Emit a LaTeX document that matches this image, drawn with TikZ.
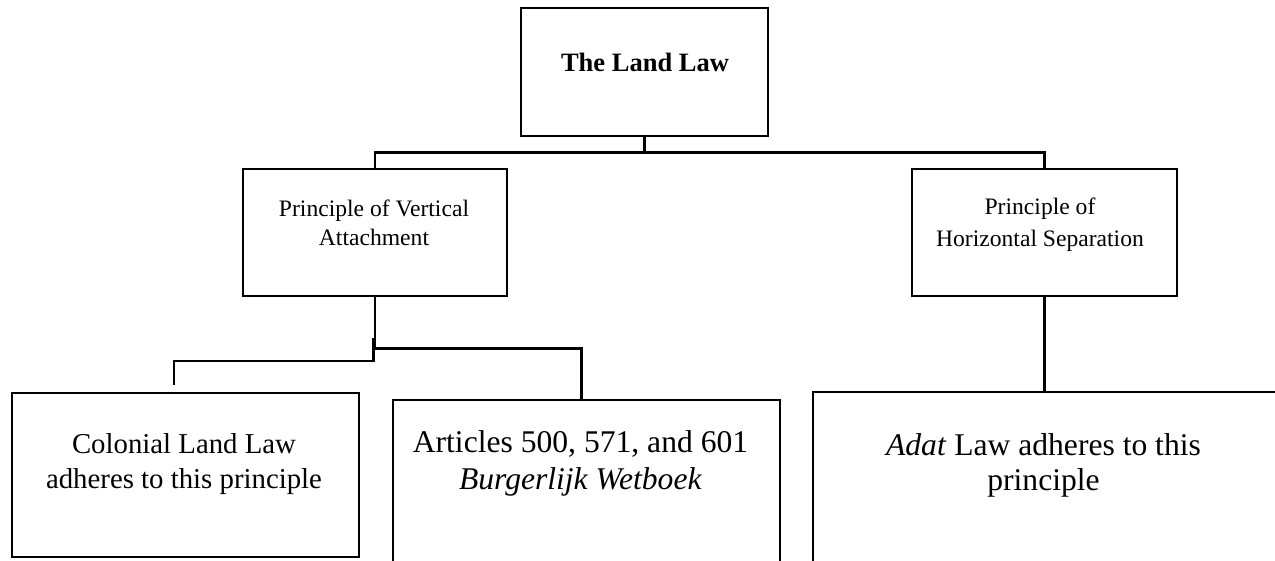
\documentclass[tikz,border=0pt]{standalone}
\usepackage{fontspec}
\setmainfont{Liberation Serif}
\begin{document}
\begin{tikzpicture}[x=1pt,y=-1pt,
  box/.style={draw=black,line width=1.8pt,rectangle,inner sep=0pt,anchor=center},
  conn/.style={draw=black,line width=2.6pt},
  lbl/.style={anchor=base,align=center,inner sep=0pt},
  fmid/.style={font=\fontsize{23.6}{29}\selectfont},
  fmidr/.style={font=\fontsize{23.6}{32}\selectfont},
  fbot/.style={font=\fontsize{28.8}{35}\selectfont},
  fbotm/.style={font=\fontsize{31.6}{37}\selectfont},
  fbotr/.style={font=\fontsize{31.6}{35}\selectfont},
  ftop/.style={font=\fontsize{26.5}{30}\selectfont\bfseries}]
\clip (0,0) rectangle (1275,560);
% boxes
\node[box,minimum width=247pt,minimum height=128pt] (top) at (644.5,72) {};
\node[box,minimum width=264pt,minimum height=127pt] (midL) at (375,232.5) {};
\node[box,minimum width=265pt,minimum height=127pt] (midR) at (1044.5,232.75) {};
\node[box,minimum width=347.6pt,minimum height=164.3pt] (botL) at (185.5,474.85) {};
\node[box,minimum width=386.7pt,minimum height=200pt] (botM) at (586.65,500) {};
\node[box,minimum width=487.3pt,minimum height=210pt] (botR) at (1056.35,496.7) {};
% labels (base anchor = baseline of the last line)
\node[lbl,ftop] (tTop) at (645,71.7) {The Land Law};
\node[lbl,fmid] (tMidL) at (374,245) {Principle of Vertical\\Attachment};
\node[lbl,fmidr] (tMidR) at (1040,246.5) {Principle of\\Horizontal Separation};
\node[lbl,fbot] (tBotL) at (184,488) {Colonial Land Law\\adheres to this principle};
\node[lbl,fbotm] (tBotM) at (580.5,489) {Articles 500, 571, and 601\\\textit{Burgerlijk Wetboek}};
\node[lbl,fbotr] (tBotR) at (1043.5,490) {\textit{Adat} Law adheres to this\\principle};
% connectors
\coordinate (j1) at (644.5,152.3);
\draw[conn] (top.south) -- (j1);
\draw[conn] (midL.north) |- (j1) -| (midR.north);
\coordinate (j2) at (581.5,348.3);
\draw[conn] (midL.south) |- (j2) -- (j2 |- botM.north);
\coordinate (k1) at (373.5,338);
\coordinate (k2) at (174,385);
\draw[conn] (k1) -- (373.5,361) -| (k2);
\draw[conn] (midR.south) -- (midR.south |- botR.north);
\end{tikzpicture}
\end{document}
